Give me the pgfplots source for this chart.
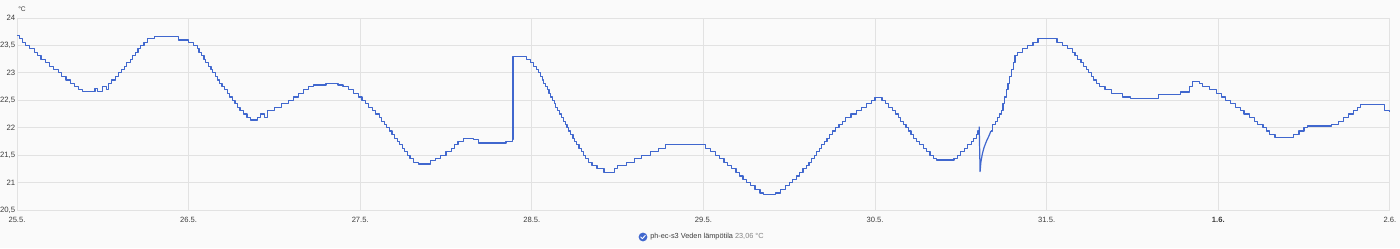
\documentclass[border=0pt]{standalone}
\usepackage{pgfplots}
\pgfplotsset{compat=1.18}
\usepackage{fontspec}
\setmainfont{Liberation Sans}
\definecolor{line}{RGB}{64,103,206}
\definecolor{gridc}{RGB}{226,226,226}
\definecolor{txt}{RGB}{60,60,60}
\definecolor{txtl}{RGB}{130,130,130}
\definecolor{bg}{RGB}{250,250,250}
\pgfplotstableread{
d v
0 23.68
0.015 23.62
0.03 23.56
0.05 23.50
0.075 23.44
0.10 23.37
0.12 23.31
0.14 23.25
0.165 23.19
0.19 23.12
0.215 23.06
0.24 23.00
0.26 22.94
0.285 22.87
0.31 22.81
0.335 22.75
0.36 22.69
0.38 22.66
0.455 22.72
0.47 22.66
0.50 22.75
0.52 22.69
0.535 22.81
0.55 22.87
0.575 22.94
0.59 23.00
0.61 23.06
0.625 23.12
0.64 23.19
0.66 23.25
0.675 23.31
0.69 23.37
0.705 23.44
0.72 23.50
0.74 23.56
0.76 23.62
0.80 23.66
0.94 23.60
1.00 23.56
1.03 23.50
1.05 23.44
1.06 23.37
1.075 23.31
1.09 23.25
1.10 23.19
1.115 23.12
1.13 23.06
1.14 23.00
1.155 22.94
1.17 22.87
1.18 22.81
1.195 22.75
1.21 22.69
1.225 22.62
1.24 22.56
1.255 22.50
1.27 22.44
1.285 22.37
1.30 22.31
1.32 22.25
1.34 22.19
1.36 22.14
1.40 22.19
1.42 22.25
1.44 22.19
1.46 22.31
1.50 22.37
1.54 22.44
1.58 22.50
1.61 22.56
1.64 22.62
1.67 22.69
1.70 22.75
1.73 22.78
1.80 22.81
1.87 22.78
1.90 22.75
1.93 22.69
1.96 22.62
1.99 22.56
2.01 22.50
2.03 22.44
2.05 22.37
2.07 22.31
2.09 22.25
2.11 22.19
2.125 22.12
2.14 22.06
2.155 22.00
2.17 21.94
2.185 21.87
2.20 21.81
2.215 21.75
2.23 21.69
2.245 21.62
2.26 21.56
2.275 21.50
2.29 21.44
2.31 21.37
2.34 21.34
2.41 21.40
2.44 21.44
2.47 21.50
2.50 21.56
2.53 21.62
2.55 21.69
2.57 21.75
2.60 21.81
2.66 21.78
2.69 21.72
2.85 21.75
2.885 21.78
2.89 23.30
2.97 23.25
2.99 23.19
3.01 23.12
3.025 23.06
3.04 23.00
3.05 22.94
3.06 22.87
3.07 22.81
3.08 22.75
3.09 22.69
3.10 22.62
3.11 22.56
3.12 22.50
3.13 22.44
3.14 22.37
3.15 22.31
3.16 22.25
3.175 22.19
3.185 22.12
3.195 22.06
3.205 22.00
3.215 21.94
3.225 21.87
3.24 21.81
3.25 21.75
3.26 21.69
3.275 21.62
3.29 21.56
3.30 21.50
3.315 21.44
3.33 21.37
3.35 21.31
3.38 21.25
3.42 21.19
3.48 21.25
3.50 21.31
3.55 21.37
3.60 21.44
3.64 21.50
3.69 21.56
3.74 21.62
3.78 21.69
4.01 21.62
4.04 21.56
4.07 21.50
4.095 21.44
4.12 21.37
4.14 21.31
4.165 21.25
4.19 21.19
4.21 21.12
4.23 21.06
4.25 21.00
4.275 20.94
4.30 20.87
4.33 20.81
4.35 20.78
4.42 20.81
4.45 20.87
4.48 20.94
4.50 21.00
4.52 21.06
4.54 21.12
4.56 21.19
4.58 21.25
4.60 21.31
4.615 21.37
4.63 21.44
4.645 21.50
4.66 21.56
4.675 21.62
4.69 21.69
4.705 21.75
4.72 21.81
4.735 21.87
4.75 21.94
4.77 22.00
4.79 22.06
4.81 22.12
4.83 22.19
4.86 22.25
4.89 22.31
4.92 22.37
4.95 22.44
4.98 22.50
5.00 22.55
5.04 22.50
5.06 22.44
5.08 22.37
5.10 22.31
5.12 22.25
5.135 22.19
5.15 22.12
5.165 22.06
5.18 22.00
5.195 21.94
5.21 21.87
5.225 21.81
5.24 21.75
5.26 21.69
5.28 21.62
5.30 21.56
5.32 21.50
5.34 21.44
5.36 21.41
5.46 21.44
5.48 21.50
5.50 21.56
5.52 21.62
5.54 21.69
5.56 21.75
5.575 21.81
5.59 21.87
5.60 21.94
5.607 22.02
}\tempsA
\pgfplotstableread{
d v
5.607 22.02
5.612 21.20
5.617 21.38
5.625 21.52
5.635 21.64
5.65 21.76
5.665 21.86
5.675 21.94
}\tempsB
\pgfplotstableread{
d v
5.675 21.94
5.685 22.06
5.70 22.12
5.715 22.19
5.725 22.25
5.735 22.31
5.745 22.44
5.755 22.56
5.765 22.69
5.775 22.81
5.785 22.94
5.795 23.06
5.805 23.19
5.815 23.31
5.83 23.37
5.86 23.44
5.89 23.50
5.92 23.56
5.95 23.62
6.06 23.56
6.09 23.50
6.12 23.44
6.15 23.37
6.165 23.31
6.18 23.25
6.20 23.19
6.215 23.12
6.23 23.06
6.245 23.00
6.26 22.94
6.275 22.87
6.29 22.81
6.31 22.75
6.34 22.69
6.38 22.62
6.44 22.56
6.49 22.53
6.65 22.60
6.78 22.65
6.83 22.75
6.85 22.84
6.89 22.81
6.91 22.75
6.95 22.69
6.99 22.62
7.02 22.56
7.04 22.50
7.07 22.44
7.10 22.37
7.13 22.31
7.15 22.25
7.18 22.19
7.21 22.12
7.23 22.06
7.26 22.00
7.28 21.94
7.30 21.87
7.33 21.82
7.44 21.87
7.47 21.94
7.50 22.00
7.52 22.03
7.66 22.06
7.70 22.12
7.73 22.19
7.76 22.25
7.79 22.31
7.81 22.37
7.83 22.42
7.97 22.31
8.00 22.28
}\tempsC
\begin{document}
\begin{tikzpicture}
\useasboundingbox[fill=bg] (-12.75pt,-28.5pt) rectangle (1037.25pt,157.5pt);
\begin{axis}[
  at={(0,0)}, anchor=south west,
  scale only axis, width=1029.75pt, height=144pt,
  xmin=0, xmax=8, ymin=20.5, ymax=24,
  xtick={0,1,2,3,4,5,6,7,8},
  xticklabels={25.5.,26.5.,27.5.,28.5.,29.5.,30.5.,31.5.,\textbf{1.6.},2.6.},
  ytick={20.5,21,21.5,22,22.5,23,23.5,24},
  yticklabels={{20,5},21,{21,5},22,{22,5},23,{23,5},24},
  axis line style={draw=none},
  major tick length=0pt,
  grid=major,
  grid style={gridc, line width=0.6pt},
  x tick label style={anchor=center, yshift=-7.5pt, font=\fontsize{5.7}{7}\selectfont, text=txt, inner sep=0pt},
  y tick label style={anchor=east, xshift=-1.2pt, font=\fontsize{5.8}{7}\selectfont, text=txt, inner sep=0pt},
  clip=false,
]
\addplot[const plot, line, line width=0.9pt, line join=round, mark=none] table[x=d, y=v] {\tempsA};
\addplot[sharp plot, line, line width=0.9pt, line join=round, mark=none] table[x=d, y=v] {\tempsB};
\addplot[const plot, line, line width=0.9pt, line join=round, mark=none] table[x=d, y=v] {\tempsC};
\node[anchor=west, inner sep=0pt, font=\fontsize{5}{6}\selectfont, text=txt] at (rel axis cs:0,1) [xshift=0.75pt, yshift=6.75pt] {°C};
\end{axis}
\fill[line] (469.5pt,-20.25pt) circle (3.3pt);
\draw[white, line width=0.7pt, line cap=round, line join=round] (467.8pt,-20.3pt) -- (469.0pt,-21.5pt) -- (471.3pt,-19.0pt);
\node[anchor=west, inner sep=0pt, font=\fontsize{5.5}{7}\selectfont, text=txt] at (474.75pt,-20.25pt) {ph-ec-s3 Veden lämpötila \textcolor{txtl}{23,06 °C}};
\end{tikzpicture}
\end{document}
